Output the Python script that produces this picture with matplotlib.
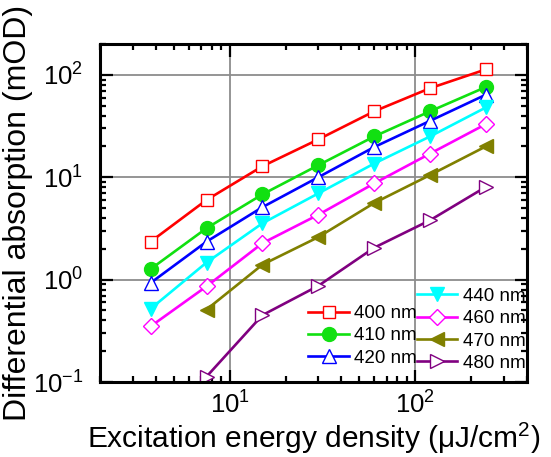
import numpy as np
import matplotlib
matplotlib.use("Agg")
import matplotlib.pyplot as plt
from matplotlib.ticker import LogLocator, NullFormatter

plt.rcParams['font.family'] = ['Liberation Sans', 'DejaVu Sans']
plt.rcParams['mathtext.fontset'] = 'custom'
plt.rcParams['mathtext.rm'] = 'Liberation Sans'
plt.rcParams['mathtext.it'] = 'Liberation Sans:italic'
plt.rcParams['mathtext.bf'] = 'Liberation Sans:bold'

# Excitation energy density (uJ/cm^2)
fluence = [3.75, 7.5, 15, 30, 60, 120, 240]

# Differential absorption (mOD) per probe wavelength
a400 = [2.35, 6.0, 12.8, 23.4, 44, 74, 113]
a410 = [1.27, 3.18, 6.8, 13.1, 25, 44, 76]
a420 = [0.93, 2.35, 5.1, 10.0, 19.7, 35.5, 64]
a440 = [0.52, 1.47, 3.55, 6.95, 13.6, 25, 48]
a460 = [0.35, 0.86, 2.27, 4.3, 8.7, 17, 33]
a470 = [0.51, 1.4, 2.6, 5.6, 10.5, 20]
a480 = [0.113, 0.45, 0.87, 2.05, 3.8, 8.05]

labels = ['400 nm', '410 nm', '420 nm', '440 nm', '460 nm', '470 nm', '480 nm']

fig = plt.figure(figsize=(5.51, 4.57), dpi=100)
ax = fig.add_axes([0.1815, 0.164, 0.775, 0.7397])

lw = 1.9
h400, = ax.plot(fluence, a400, color='#ff0000', lw=lw, marker='s', ms=8.5,
                mfc='white', mec='#ff0000', mew=1.0)
h410, = ax.plot(fluence, a410, color='#11e011', lw=lw, marker='o', ms=10,
                mfc='#11e011', mec='#11e011')
h420, = ax.plot(fluence, a420, color='#0000ff', lw=lw, marker='^', ms=10.5,
                mfc='white', mec='#0000ff', mew=1.0)
h440, = ax.plot(fluence, a440, color='#00ffff', lw=lw, marker='v', ms=10.5,
                mfc='#00ffff', mec='#00ffff')
h460, = ax.plot(fluence, a460, color='#ff00ff', lw=lw, marker='D', ms=8,
                mfc='white', mec='#ff00ff', mew=1.0)
h470, = ax.plot(fluence[1:], a470, color='#808000', lw=lw, marker='<', ms=10.5,
                mfc='#808000', mec='#808000')
h480, = ax.plot(fluence[1:], a480, color='#800080', lw=lw, marker='>', ms=10.5,
                mfc='white', mec='#800080', mew=1.0)

ax.set_xscale('log')
ax.set_yscale('log')
ax.set_xlim(2, 400)
ax.set_ylim(0.1, 200)

ax.grid(True, which='major', color='#8c8c8c', lw=1.3)
ax.set_axisbelow(True)
ax.xaxis.set_minor_locator(LogLocator(base=10, subs=np.arange(2, 10)))
ax.yaxis.set_minor_locator(LogLocator(base=10, subs=np.arange(2, 10)))
ax.xaxis.set_minor_formatter(NullFormatter())
ax.yaxis.set_minor_formatter(NullFormatter())
ax.tick_params(which='both', direction='in', top=True, right=True, width=1.6)
ax.tick_params(which='major', length=9, labelsize=18.5)
ax.tick_params(axis='x', which='major', pad=7)
ax.tick_params(axis='y', which='major', pad=12)
ax.tick_params(which='minor', length=4.5)
for s in ax.spines.values():
    s.set_linewidth(2.2)

ax.set_xlabel('Excitation energy density (μJ/cm$^{2}$)', fontsize=21.5, labelpad=1)
ax.set_ylabel('Differential absorption (mOD)', fontsize=23, labelpad=0)

leg_kw = dict(loc='lower left', frameon=False, fontsize=13.5,
              handlelength=2.15, handletextpad=0.3, labelspacing=0.28,
              borderpad=0, borderaxespad=0)
leg1 = ax.legend([h400, h410, h420], labels[:3],
                 bbox_to_anchor=(0.488, 0.045), **leg_kw)
ax.add_artist(leg1)
ax.legend([h440, h460, h470, h480], labels[3:],
          bbox_to_anchor=(0.742, 0.03), **leg_kw)

fig.savefig('out.png', dpi=100)
